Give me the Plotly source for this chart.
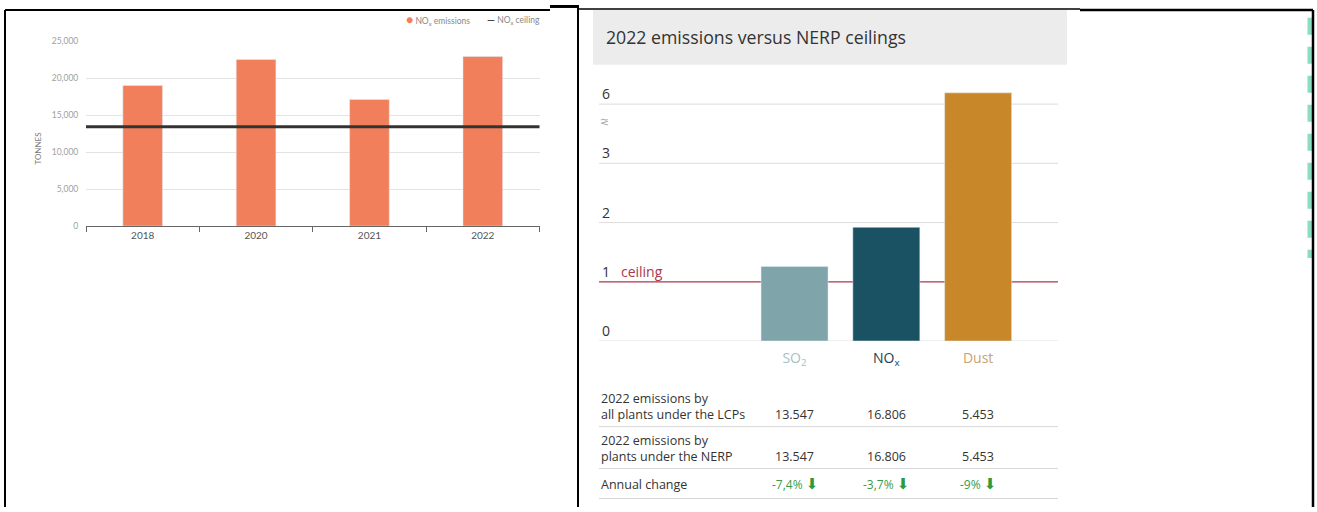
import plotly.graph_objects as go

W, H = 1317, 512
def px(x):
    return x / W
def py(y):
    return 1 - y / H

# ---------------- data ----------------
# Left chart
years = ["2018", "2020", "2021", "2022"]
nox_emissions = [19000, 22500, 17100, 22900]
nox_ceiling = 13400
left_yticks = [0, 5000, 10000, 15000, 20000, 25000]

# Right chart (ratio of emissions to NERP ceiling)
pollutants = ["SO2", "NOx", "Dust"]
pollutant_labels = ["SO<sub>2</sub>", "NO<sub>x</sub>", "Dust"]
ratio_to_ceiling = [1.26, 1.92, 6.57]
right_tick_labels = [0, 1, 2, 3, 6]
ceiling_ratio = 1
row_labels = ["2022 emissions by<br>all plants under the LCPs",
              "2022 emissions by<br>plants under the NERP",
              "Annual change"]
emis_all_lcp = ["13.547", "16.806", "5.453"]
emis_nerp = ["13.547", "16.806", "5.453"]
annual_change = ["-7,4%", "-3,7%", "-9%"]

# ---------------- styles ----------------
bar_color_left = "#f27f5b"
right_colors = ["#7fa5ab", "#1b5263", "#c8882a"]
label_colors = ["#a3c2c6", "#1d3d4d", "#c9a36e"]
green = "#2f9a3a"
ceiling_red = "#a8384f"

def to_visual(v):
    # broken axis: linear up to 3, compressed above 3
    return v if v <= 3 else 3 + (v - 3) / 3

fig = go.Figure()

# left bars
fig.add_trace(go.Bar(x=years, y=nox_emissions, marker_color=bar_color_left,
                     width=0.35, xaxis="x", yaxis="y", showlegend=False,
                     name="NOx emissions"))

# right bars
fig.add_trace(go.Bar(x=pollutants, y=[to_visual(v) for v in ratio_to_ceiling],
                     marker_color=right_colors, width=0.73,
                     xaxis="x2", yaxis="y2", showlegend=False))

left_ytop = 36.7
left_ybot = 225.5
r_y0 = 342.7
r_unit = 60.4
r_top_vis = 4.6

fig.update_layout(
    width=W, height=H, margin=dict(l=0, r=0, t=0, b=0),
    paper_bgcolor="white", plot_bgcolor="white",
    font=dict(family="Open Sans", color="#333"),
    xaxis=dict(domain=[px(86), px(539.5)], anchor="y", type="category",
               showline=True, linecolor="#666", linewidth=1,
               ticks="outside", tickson="boundaries", ticklen=5, tickcolor="#666",
               tickfont=dict(family="Lato", size=10, color="#555"),
               showgrid=False, fixedrange=True),
    yaxis=dict(domain=[py(left_ybot), py(left_ytop)], anchor="x",
               range=[0, 25000], tickvals=left_yticks,
               ticktext=[f"{v:,}" for v in left_yticks],
               tickfont=dict(family="Lato", size=8.5, color="#a0a0a0"),
               showgrid=True, gridcolor="#e3e3e3", zeroline=False,
               ticks="outside", ticklen=5, tickcolor="rgba(0,0,0,0)", showline=False),
    xaxis2=dict(domain=[px(599), px(1058)], anchor="y2", type="category",
                categoryorder="array", categoryarray=pollutants,
                range=[-2.13, 2.87], tickvals=pollutants,
                ticktext=[f"<span style='color:{c}'>{t}</span>" for t, c in zip(pollutant_labels, label_colors)],
                tickfont=dict(family="Open Sans", size=14),
                ticks="outside", ticklen=4, tickcolor="rgba(0,0,0,0)",
                showgrid=False, showline=False, zeroline=False),
    yaxis2=dict(domain=[py(r_y0), py(r_y0 - r_top_vis * r_unit)], anchor="x2",
                range=[0, r_top_vis],
                tickvals=[to_visual(v) for v in right_tick_labels],
                ticktext=[str(v) if v != ceiling_ratio else f"{v}   <span style='color:{ceiling_red}'>ceiling</span>"
                          for v in right_tick_labels],
                ticklabelposition="inside top",
                tickfont=dict(family="Open Sans", size=14, color="#333"),
                showgrid=False, zeroline=False, showline=False, ticks=""),
    bargap=0.5,
)

shapes = []
# left ceiling line
shapes.append(dict(type="line", xref="x domain", yref="y", x0=0, x1=1,
                   y0=nox_ceiling, y1=nox_ceiling, line=dict(color="#333", width=3),
                   layer="above"))
# right gridlines (except ceiling) and ceiling line
for v in right_tick_labels:
    if v == ceiling_ratio:
        continue
    yv = to_visual(v)
    shapes.append(dict(type="line", xref="x2 domain", yref="y2", x0=0, x1=1,
                       y0=yv, y1=yv, line=dict(color="#dcdcdc", width=1),
                       layer="below"))
shapes.append(dict(type="line", xref="x2 domain", yref="y2", x0=0, x1=1,
                   y0=ceiling_ratio, y1=ceiling_ratio,
                   line=dict(color=ceiling_red, width=1.2), layer="below"))
# title box
shapes.append(dict(type="rect", xref="paper", yref="paper",
                   x0=px(593), x1=px(1067), y0=py(61), y1=py(5),
                   fillcolor="#ececec", line=dict(width=0), layer="below"))
# table separators
for yy in [430, 472.7, 503.3]:
    shapes.append(dict(type="line", xref="paper", yref="paper",
                       x0=px(599), x1=px(1058), y0=py(yy), y1=py(yy),
                       line=dict(color="#d8d8d8", width=1)))
# green dashes at right edge
shapes.append(dict(type="line", xref="paper", yref="paper",
                   x0=px(1310.5), x1=px(1310.5), y0=py(13), y1=py(258),
                   line=dict(color="#8adcc2", width=6, dash="17px,12px"),
                   layer="below"))
# frame lines
frame = [
    (5, 5, 5, 512, 2), (5, 5, 550, 5, 2), (550, 1.5, 578, 1.5, 3),
    (578, 0, 578, 512, 2), (578, 4, 1080, 4, 1.5),
    (1080, 5, 1313, 5, 2.5), (1313, 5, 1313, 512, 2.5),
]
for x0, y0, x1, y1, w in frame:
    shapes.append(dict(type="line", xref="paper", yref="paper",
                       x0=px(x0), x1=px(x1), y0=py(y0), y1=py(y1),
                       line=dict(color="black", width=w)))
fig.update_layout(shapes=shapes)

ann = []
# left legend
ann.append(dict(xref="paper", yref="paper", x=px(404), y=py(15), xanchor="left",
                yanchor="middle", showarrow=False,
                text=f"<span style='color:{bar_color_left};font-size:12px'>●</span> NO<sub>x</sub> emissions",
                font=dict(family="Lato", size=8.5, color="#888")))
ann.append(dict(xref="paper", yref="paper", x=px(485), y=py(15), xanchor="left",
                yanchor="middle", showarrow=False,
                text="<span style='color:#333;font-size:10px'><b>—</b></span> NO<sub>x</sub> ceiling",
                font=dict(family="Lato", size=8.5, color="#888")))
# left y title
ann.append(dict(xref="paper", yref="paper", x=px(30), y=py(128), showarrow=False,
                text="TONNES", textangle=-90,
                font=dict(family="Lato", size=8, color="#777")))
# right title
ann.append(dict(xref="paper", yref="paper", x=px(604), y=py(33), xanchor="left",
                yanchor="middle", showarrow=False,
                text="2022 emissions versus NERP ceilings",
                font=dict(family="Open Sans", size=17.7, color="#333")))
# axis break mark
ann.append(dict(xref="paper", yref="paper", x=px(605), y=py(111), showarrow=False,
                text="≳", textangle=180,
                font=dict(family="DejaVu Sans", size=11, color="#aaa")))
# table row labels
row_y = [(409.7, 417.7), (452.2, 460), (489, 489)]
for lab, (yc, yv) in zip(row_labels, row_y):
    ann.append(dict(xref="paper", yref="paper", x=px(599), y=py(yc), xanchor="left",
                    yanchor="middle", align="left", showarrow=False, text=lab,
                    font=dict(family="Open Sans", size=12.5, color="#333")))
for vals, (yc, yv) in zip([emis_all_lcp, emis_nerp], row_y[:2]):
    for cat, v in zip(pollutants, vals):
        ann.append(dict(xref="x2", yref="paper", x=cat, y=py(yv), xanchor="center",
                        yanchor="middle", showarrow=False, text=v,
                        font=dict(family="Open Sans", size=12.5, color="#333")))
for cat, v in zip(pollutants, annual_change):
    ann.append(dict(xref="x2", yref="paper", x=cat, y=py(489), xanchor="center",
                    yanchor="middle", showarrow=False,
                    text=f"{v} <span style='font-family:DejaVu Sans;font-size:15px;color:{green}'>⬇</span>",
                    font=dict(family="Open Sans", size=12, color="#3a9a4a")))
fig.update_layout(annotations=ann)

fig.write_html("out.html", config={"displayModeBar": False},
               post_script="document.body.style.margin='0';")
